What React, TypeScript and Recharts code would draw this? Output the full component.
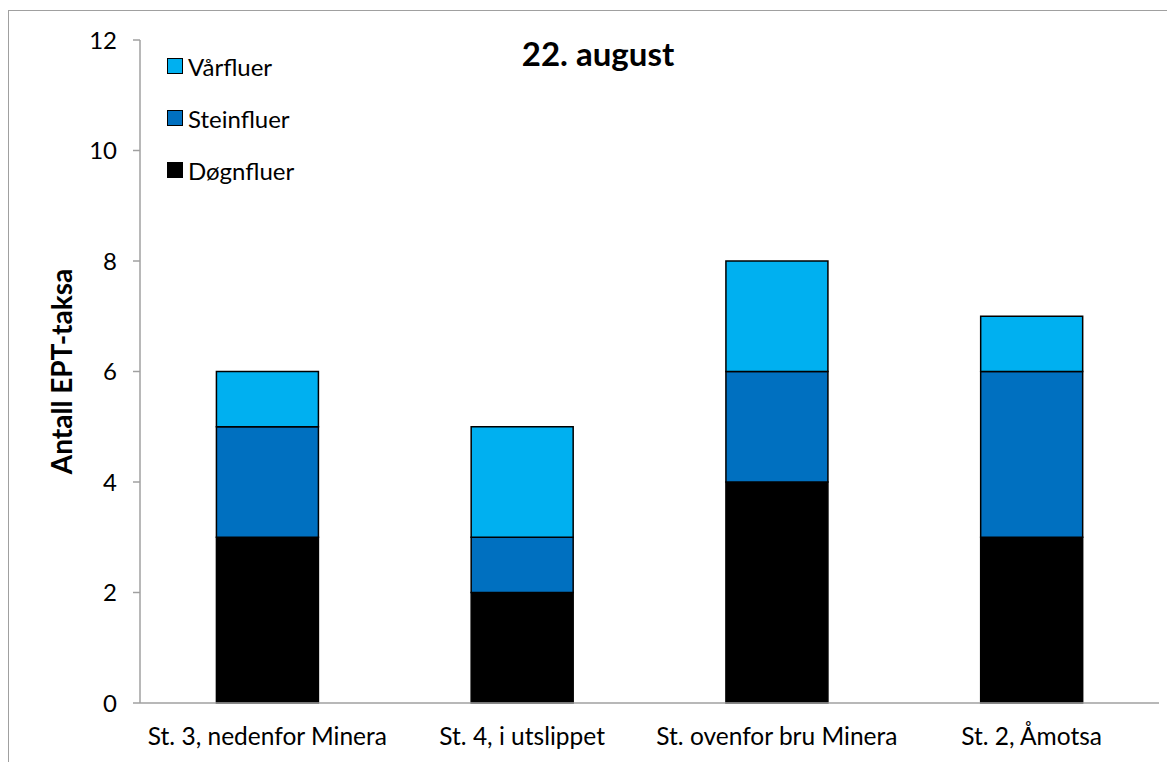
import React from "react";
import { BarChart, Bar, XAxis, YAxis, Label } from "recharts";

// Stations along the river
const stations = [
  "St. 3, nedenfor Minera",
  "St. 4, i utslippet",
  "St. ovenfor bru Minera",
  "St. 2, Åmotsa",
];

// Number of taxa per insect group at each station
const dognfluer = [3, 2, 4, 3];
const steinfluer = [2, 1, 2, 3];
const varfluer = [1, 2, 2, 1];

const yTicks = [0, 2, 4, 6, 8, 10, 12];
const edgeTicks = [0, 1, 2, 3, 4];

const series = [
  { key: "Døgnfluer", values: dognfluer, color: "#000000" },
  { key: "Steinfluer", values: steinfluer, color: "#0070C0" },
  { key: "Vårfluer", values: varfluer, color: "#00B0F0" },
];

const data = stations.map((name, i) => ({
  name,
  idx: i + 0.5,
  Døgnfluer: dognfluer[i],
  Steinfluer: steinfluer[i],
  Vårfluer: varfluer[i],
}));

const FONT = "Lato, 'Open Sans', sans-serif";
const AXIS_COLOR = "#A0A0A0";

export default function App() {
  return (
    <div style={{ paddingTop: 2, fontFamily: FONT }}>
      <div
        style={{
          position: "relative",
          width: 1166,
          height: 751,
          borderTop: `1px solid ${AXIS_COLOR}`,
          borderLeft: `1px solid ${AXIS_COLOR}`,
        }}
      >
        <BarChart
          width={1166}
          height={751}
          data={data}
          barCategoryGap="30%"
          margin={{ top: 29, right: 16, bottom: 19, left: 71 }}
        >
          <XAxis
            dataKey="name"
            xAxisId="cat"
            tickLine={false}
            axisLine={{ stroke: AXIS_COLOR, strokeWidth: 1.5 }}
            tick={{ fill: "#000", fontSize: 24.5, fontFamily: FONT }}
            tickMargin={19}
            height={40}
            interval={0}
          />
          <XAxis
            xAxisId="edges"
            type="number"
            dataKey="idx"
            domain={[0, 4]}
            ticks={edgeTicks}
            tick={false}
            axisLine={false}
            tickLine={{ stroke: AXIS_COLOR, strokeWidth: 1.5 }}
            tickSize={7}
            height={0}
            allowDataOverflow
          />
          <YAxis
            domain={[0, 12]}
            ticks={yTicks}
            width={60}
            tickSize={7}
            tickMargin={16}
            axisLine={{ stroke: AXIS_COLOR, strokeWidth: 1.5 }}
            tickLine={{ stroke: AXIS_COLOR, strokeWidth: 1.5 }}
            tick={{ fill: "#000", fontSize: 24, fontFamily: FONT }}
          >
            <Label
              value="Antall EPT-taksa"
              angle={-90}
              position="insideLeft"
              offset={-18}
              style={{
                textAnchor: "middle",
                fontSize: 28,
                fontWeight: 700,
                fill: "#000",
                fontFamily: FONT,
              }}
            />
          </YAxis>
          {series.map((s) => (
            <Bar
              key={s.key}
              dataKey={s.key}
              xAxisId="cat"
              stackId="ept"
              fill={s.color}
              stroke="#000"
              strokeWidth={1.5}
              isAnimationActive={false}
            />
          ))}
        </BarChart>

        {/* Title */}
        <div
          style={{
            position: "absolute",
            left: 389,
            width: 400,
            top: 22,
            textAlign: "center",
            fontSize: 33,
            fontWeight: 700,
            color: "#000",
            lineHeight: "40px",
          }}
        >
          22. august
        </div>

        {/* Legend, top series first */}
        <div style={{ position: "absolute", left: 158, top: 29 }}>
          {[...series].reverse().map((s) => (
            <div
              key={s.key}
              style={{
                display: "flex",
                alignItems: "center",
                height: 52,
                fontSize: 24,
                color: "#000",
              }}
            >
              <span
                style={{
                  display: "inline-block",
                  width: 14,
                  height: 14,
                  background: s.color,
                  border: "1.5px solid #000",
                  marginRight: 5,
                }}
              />
              {s.key}
            </div>
          ))}
        </div>
      </div>
    </div>
  );
}
